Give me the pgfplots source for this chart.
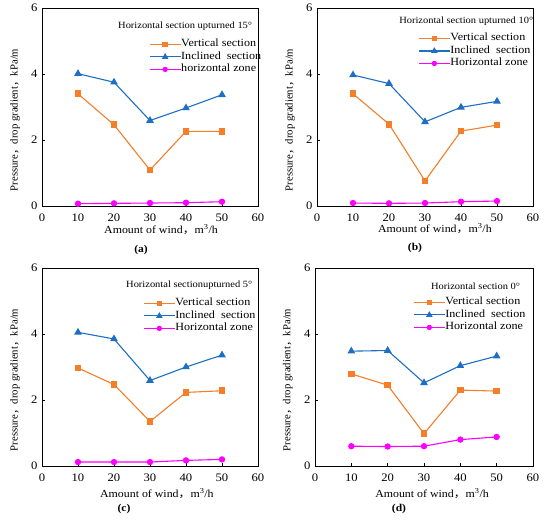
\documentclass[border=0pt]{standalone}
\usepackage{fontspec}
\setmainfont{Liberation Serif}[FakeStretch=1.1]
\newfontfamily\plainserif{Liberation Serif}
\newfontfamily\cjk{Noto Sans CJK SC}[FakeStretch=1.1]
\newfontfamily\cjkplain{Noto Sans CJK SC}
\usepackage{pgfplots}
\pgfplotsset{compat=1.18}
\definecolor{corange}{RGB}{245,126,40}
\definecolor{cblue}{RGB}{30,110,195}
\definecolor{cmag}{RGB}{255,0,255}
\tikzset{ttl/.style={anchor=west, font=\fontsize{9.5}{11}\selectfont, inner sep=0pt}}
\pgfplotsset{
  panel/.style={
    anchor=south west, scale only axis,
    xmin=0, xmax=60, ymin=0, ymax=6,
    xtick={0,10,...,60}, ytick={0,2,4,6},
    tick align=inside, xtick pos=lower, ytick pos=left,
    major tick length=3pt,
    every tick/.style={black, line width=0.6pt},
    axis line style={black, line width=0.8pt},
    tick label style={font=\fontsize{11.5}{12}\selectfont},
    /pgf/number format/assume math mode=true,
    xticklabel style={yshift=-4pt},
    yticklabel style={xshift=-1pt},
    xlabel={Amount of wind{\cjk ，}m\textsuperscript{3}/h},
    ylabel={\plainserif Pressure{\cjkplain ，}drop gradient{\cjkplain ，}kPa/m},
    xlabel style={font=\fontsize{10.8}{12}\selectfont},
    ylabel style={font=\fontsize{10.7}{12}\selectfont, at={(axis description cs:-0.125,0.435)}, anchor=center, rotate=0},
    legend cell align=left,
    legend style={draw=none, fill=none, inner sep=0pt, row sep=2.5pt,
      nodes={inner sep=0pt, text height=7.5pt, text depth=2.5pt, font=\fontsize{11}{12}\selectfont}},
    /tikz/every even column/.append style={column sep=3.5pt},
    legend image code/.code={\draw[mark repeat=2,mark phase=2,#1,mark options={scale=0.8}] plot coordinates {(0pt,0pt) (15.5pt,0pt) (31pt,0pt)};},
  },
  sv/.style={color=corange, line width=1.1pt, mark=square*, mark size=2.8pt, mark options={solid}},
  si/.style={color=cblue, line width=1.1pt, mark=triangle*, mark size=3.4pt, mark options={solid}},
  sh/.style={color=cmag, line width=1.1pt, mark=*, mark size=2.6pt, mark options={solid}},
}
\begin{document}
\begin{tikzpicture}[x=1pt,y=1pt]
\useasboundingbox (0,0) rectangle (550,522);
% (a)
\begin{axis}[panel, at={(42pt,316pt)}, width=216pt, height=198pt,
  xlabel style={at={(axis description cs:0.551,-0.121)}, anchor=center},
  legend style={at={(axis description cs:0.495,0.753)}, anchor=west}]
\addplot[sv] coordinates {(10,3.40) (20,2.46) (30,1.09) (40,2.26) (50,2.26)};
\addlegendentry{Vertical section}
\addplot[si] coordinates {(10,4.01) (20,3.75) (30,2.59) (40,2.97) (50,3.37)};
\addlegendentry{Inclined\ \ section}
\addplot[sh] coordinates {(10,0.07) (20,0.08) (30,0.09) (40,0.10) (50,0.13)};
\addlegendentry{horizontal zone}
\node[ttl] at (axis description cs:0.352,0.909) {Horizontal section upturned 15°};
\end{axis}
% (b)
\begin{axis}[panel, at={(317pt,316pt)}, width=216pt, height=198pt,
  xlabel style={at={(axis description cs:0.546,-0.116)}, anchor=center},
  legend style={at={(axis description cs:0.468,0.783)}, anchor=west}]
\addplot[sv] coordinates {(10,3.40) (20,2.48) (30,0.76) (40,2.27) (50,2.45)};
\addlegendentry{Vertical section}
\addplot[si] coordinates {(10,3.97) (20,3.71) (30,2.55) (40,2.99) (50,3.17)};
\addlegendentry{Inclined\ \ section}
\addplot[sh] coordinates {(10,0.09) (20,0.08) (30,0.09) (40,0.13) (50,0.15)};
\addlegendentry{Horizontal zone}
\node[ttl] at (axis description cs:0.38,0.934) {Horizontal section upturned 10°};
\end{axis}
% (c)
\begin{axis}[panel, at={(42pt,56pt)}, width=216pt, height=198pt,
  xlabel style={at={(axis description cs:0.532,-0.141)}, anchor=center},
  legend style={at={(axis description cs:0.468,0.758)}, anchor=west}]
\addplot[sv] coordinates {(10,2.97) (20,2.47) (30,1.35) (40,2.23) (50,2.28)};
\addlegendentry{Vertical section}
\addplot[si] coordinates {(10,4.05) (20,3.85) (30,2.59) (40,3.00) (50,3.36)};
\addlegendentry{Inclined\ \ section}
\addplot[sh] coordinates {(10,0.12) (20,0.12) (30,0.12) (40,0.17) (50,0.20)};
\addlegendentry{Horizontal zone}
\node[ttl] at (axis description cs:0.389,0.914) {Horizontal sectionupturned 5°};
\end{axis}
% (d)
\begin{axis}[panel, at={(315pt,56pt)}, width=218pt, height=198pt,
  xlabel style={at={(axis description cs:0.537,-0.141)}, anchor=center},
  legend style={at={(axis description cs:0.45,0.763)}, anchor=west}]
\addplot[sv] coordinates {(10,2.79) (20,2.45) (30,0.98) (40,2.30) (50,2.27)};
\addlegendentry{Vertical section}
\addplot[si] coordinates {(10,3.48) (20,3.50) (30,2.52) (40,3.04) (50,3.33)};
\addlegendentry{Inclined\ \ section}
\addplot[sh] coordinates {(10,0.60) (20,0.59) (30,0.60) (40,0.80) (50,0.88)};
\addlegendentry{Horizontal zone}
\node[ttl] at (axis description cs:0.532,0.909) {Horizontal section 0°};
\end{axis}
\node[font=\fontsize{10.5}{12}\selectfont\bfseries] at (141,272) {(a)};
\node[font=\fontsize{10.5}{12}\selectfont\bfseries] at (415,274) {(b)};
\node[font=\fontsize{10.5}{12}\selectfont\bfseries] at (124,13) {(c)};
\node[font=\fontsize{10.5}{12}\selectfont\bfseries] at (399,13) {(d)};
\end{tikzpicture}
\end{document}
